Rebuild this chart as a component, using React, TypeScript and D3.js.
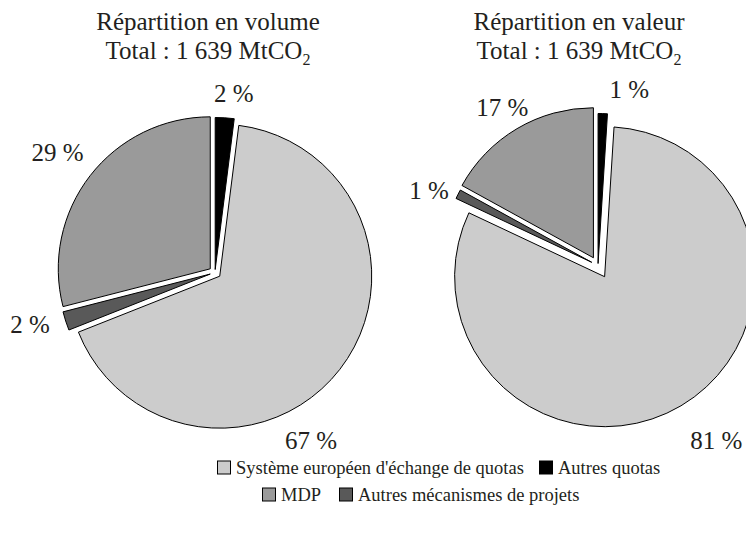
import React from "react";
import * as d3 from "d3";

// ---- data ----
const categories = [
  "Autres quotas",
  "Système européen d'échange de quotas",
  "Autres mécanismes de projets",
  "MDP",
];
const volumeValues = [2, 67, 2, 29];
const valueValues = [1, 81, 1, 17];
const volumeLabels = ["2 %", "67 %", "2 %", "29 %"];
const valueLabels = ["1 %", "81 %", "1 %", "17 %"];
const titles = [
  ["Répartition en volume", "Total : 1 639 MtCO"],
  ["Répartition en valeur", "Total : 1 639 MtCO"],
];
const legendRow1 = [1, 0];
const legendRow2 = [3, 2];

// ---- styles / layout ----
const colors = ["#000000", "#cccccc", "#595959", "#9a9a9a"];
const W = 746;
const H = 534;
const FONT = "'Liberation Serif', 'Times New Roman', serif";
const TEXT = "#231f20";

const pies = [
  {
    values: volumeValues,
    labels: volumeLabels,
    cx: 215,
    cy: 272.5,
    r: 152,
    explode: [3, 6, 5, 6],
    labelDist: [180, 193, 192, 198],
    labelDAngle: [2.4, 22.4, 2.5, -0.5],
    titleX: 208,
  },
  {
    values: valueValues,
    labels: valueLabels,
    cx: 598,
    cy: 265.5,
    r: 150,
    explode: [2, 13, 7, 9],
    labelDist: [179, 211, 185, 185],
    labelDAngle: [8.3, -3.5, -2.9, -0.6],
    titleX: 579,
  },
];

function Pie({ cfg }: { cfg: (typeof pies)[number] }) {
  const arcs = d3
    .pie<number>()
    .sort(null)
    .value((d) => d)(cfg.values);
  const arc = d3.arc<d3.PieArcDatum<number>>().innerRadius(0).outerRadius(cfg.r);
  const toRad = Math.PI / 180;
  return (
    <g transform={`translate(${cfg.cx},${cfg.cy})`}>
      {arcs.map((a, i) => {
        const mid = (a.startAngle + a.endAngle) / 2;
        const d = cfg.explode[i];
        const dx = Math.sin(mid) * d;
        const dy = -Math.cos(mid) * d;
        return (
          <path
            key={i}
            d={arc(a) || ""}
            transform={`translate(${dx},${dy})`}
            fill={colors[i]}
            stroke="#000"
            strokeWidth={1}
            strokeLinejoin="miter"
          />
        );
      })}
      {arcs.map((a, i) => {
        const mid = (a.startAngle + a.endAngle) / 2 + cfg.labelDAngle[i] * toRad;
        const dist = cfg.labelDist[i];
        return (
          <text
            key={"l" + i}
            x={Math.sin(mid) * dist}
            y={-Math.cos(mid) * dist}
            dy="0.35em"
            textAnchor="middle"
            fontFamily={FONT}
            fontSize={25}
            fill={TEXT}
          >
            {cfg.labels[i]}
          </text>
        );
      })}
    </g>
  );
}

function LegendItem({ idx, x, y }: { idx: number; x: number; y: number }) {
  return (
    <g transform={`translate(${x},${y})`}>
      <rect x={0.5} y={-7} width={13} height={13} fill={colors[idx]} stroke="#000" strokeWidth={1} />
      <text x={19} y={0} dy="0.35em" fontFamily={FONT} fontSize={18.5} fill={TEXT}>
        {categories[idx]}
      </text>
    </g>
  );
}

export default function App() {
  const row1X = [217, 539];
  const row2X = [262, 339];
  return (
    <svg
      width={W}
      height={H}
      viewBox={`0 0 ${W} ${H}`}
      style={{ position: "absolute", left: 0, top: 0, background: "#fff" }}
    >
      <rect width={W} height={H} fill="#fff" />
      {pies.map((p, i) => (
        <Pie key={i} cfg={p} />
      ))}
      {pies.map((p, i) => (
        <g key={"t" + i} fontFamily={FONT} fontSize={25} fill={TEXT} textAnchor="middle">
          <text x={p.titleX} y={30}>
            {titles[i][0]}
          </text>
          <text x={p.titleX} y={59}>
            {titles[i][1]}
            <tspan fontSize={16} dy={6}>
              2
            </tspan>
          </text>
        </g>
      ))}
      {legendRow1.map((c, i) => (
        <LegendItem key={"r1" + i} idx={c} x={row1X[i]} y={468} />
      ))}
      {legendRow2.map((c, i) => (
        <LegendItem key={"r2" + i} idx={c} x={row2X[i]} y={495} />
      ))}
    </svg>
  );
}
